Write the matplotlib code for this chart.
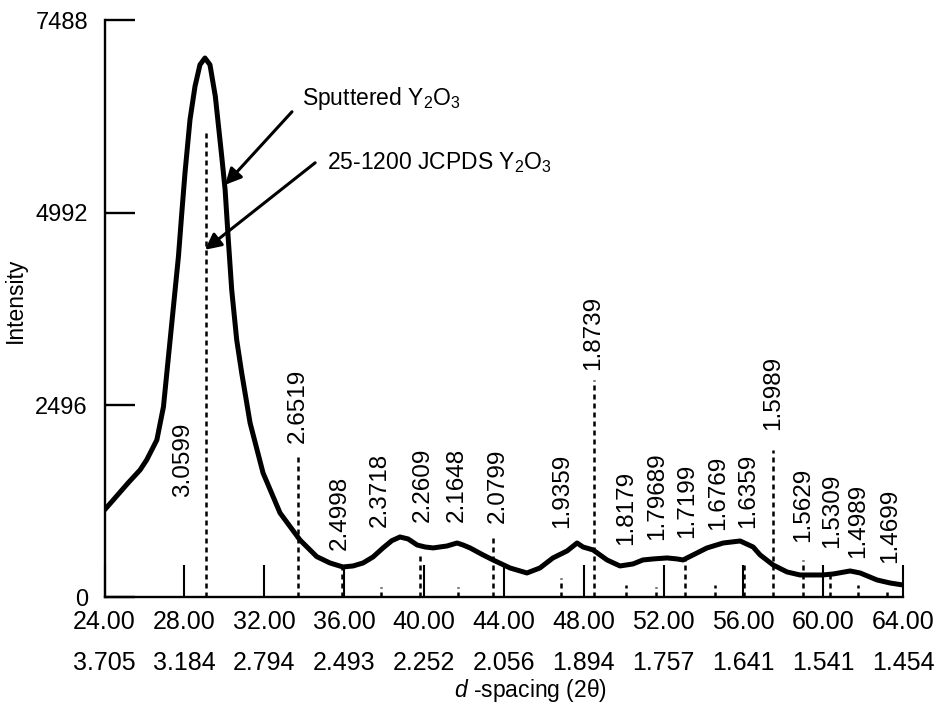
import matplotlib
matplotlib.use("Agg")
import matplotlib.pyplot as plt
from matplotlib.transforms import blended_transform_factory

plt.rcParams['font.family'] = ['Liberation Sans', 'DejaVu Sans']
plt.rcParams['mathtext.fontset'] = 'custom'
plt.rcParams['mathtext.rm'] = 'Liberation Sans'
plt.rcParams['mathtext.it'] = 'Liberation Sans:italic'

# measured diffraction scan of the sputtered film
two_theta = [24.00, 25.18, 25.78, 26.11, 26.62, 26.95, 27.20, 27.45, 27.70, 27.87,
             28.03, 28.28, 28.53, 28.78, 29.03, 29.28, 29.55, 29.87, 30.04, 30.20,
             30.37, 30.62, 30.87, 31.29, 31.94, 32.79, 33.79, 34.63, 35.29, 35.94,
             36.45, 36.95, 37.45, 37.95, 38.39, 38.80, 39.21, 39.66, 40.06, 40.46,
             41.15, 41.66, 41.96, 42.31, 42.96, 43.46, 44.31, 45.16, 45.81, 46.46,
             47.17, 47.67, 47.97, 48.47, 49.17, 49.82, 50.47, 50.97, 51.48, 52.18,
             52.68, 52.98, 53.48, 54.18, 54.99, 55.84, 56.49, 56.84, 57.49, 58.19,
             58.84, 59.35, 59.95, 60.50, 61.35, 61.85, 62.70, 63.35, 64.00]
intensity = [1136, 1486, 1655, 1785, 2044, 2473, 3122, 3771, 4420, 4991,
             5510, 6198, 6630, 6912, 6999, 6912, 6500, 5722, 5289, 4640,
             3991, 3342, 2914, 2265, 1616, 1097, 746, 530, 448, 396,
             409, 448, 526, 643, 737, 785, 759, 681, 655, 643,
             668, 707, 681, 643, 552, 487, 383, 318, 383, 513,
             604, 707, 655, 617, 487, 409, 435, 487, 500, 513,
             500, 487, 552, 643, 707, 733, 655, 552, 422, 331,
             292, 292, 292, 305, 344, 318, 227, 188, 162]

# JCPDS 25-1200 reference lines
ref_pos = [29.1, 33.7, 35.9, 37.85, 39.8, 41.7, 43.46, 46.88, 48.53, 50.1,
           51.6, 53.1, 54.6, 56.05, 57.5, 59.0, 60.35, 61.75, 63.2]
ref_int = [6029, 1850, 396, 136, 552, 136, 772, 253, 2823, 162,
           136, 513, 162, 448, 1915, 487, 318, 162, 97]
ref_labels = ['3.0599', '2.6519', '2.4998', '2.3718', '2.2609', '2.1648', '2.0799',
              '1.9359', '1.8739', '1.8179', '1.79689', '1.7199', '1.6769', '1.6359',
              '1.5989', '1.5629', '1.5309', '1.4989', '1.4699']

# where each rotated label sits (centre x, bottom y)
label_x = [27.93, 33.69, 35.80, 37.80, 39.96, 41.66, 43.71, 46.92, 48.47, 50.13,
           51.68, 53.19, 54.74, 56.24, 57.49, 58.99, 60.44, 61.74, 63.35]
label_y = [1304, 2005, 617, 915, 980, 980, 967, 902, 2953, 681,
           746, 772, 876, 902, 2174, 720, 642, 513, 448]

x_ticks = [24, 28, 32, 36, 40, 44, 48, 52, 56, 60, 64]
x_tick_labels = ['24.00', '28.00', '32.00', '36.00', '40.00', '44.00',
                 '48.00', '52.00', '56.00', '60.00', '64.00']
d_labels = ['3.705', '3.184', '2.794', '2.493', '2.252', '2.056',
            '1.894', '1.757', '1.641', '1.541', '1.454']
y_ticks = [0, 2496, 4992, 7488]

fig = plt.figure(figsize=(9.36, 7.06), dpi=100)
ax = fig.add_axes([0.1117, 0.1537, 0.8531, 0.8175])

ax.plot(two_theta, intensity, color='black', lw=3.6, solid_capstyle='round',
        solid_joinstyle='round', zorder=3)

ax.vlines(ref_pos, 0, ref_int, colors='black', linestyles=(0, (2.0, 1.6)),
          lw=1.8, zorder=2)
for lx, ly, txt in zip(label_x, label_y, ref_labels):
    ax.text(lx, ly, txt, rotation=90, ha='center', va='bottom', fontsize=17.5)

ax.set_xlim(24, 64)
ax.set_ylim(0, 7488)
ax.set_xticks(x_ticks)
ax.set_xticklabels(x_tick_labels, fontsize=18)
ax.set_yticks(y_ticks)
ax.set_yticklabels([str(v) for v in y_ticks], fontsize=17)
ax.tick_params(axis='x', direction='in', length=23, width=1.5, pad=9)
ax.tick_params(axis='y', direction='in', length=21.5, width=1.7, pad=12)

# second row of x labels: d-spacing in angstroms
trans = blended_transform_factory(ax.transData, ax.transAxes)
for xv, dv in zip(x_ticks, d_labels):
    ax.text(xv, -0.1127, dv, transform=trans, ha='center', va='center', fontsize=18)

ax.text(0.533, -0.161, '$d$ -spacing (2θ)', transform=ax.transAxes,
        ha='center', va='center', fontsize=16.5)
ax.set_ylabel('Intensity', fontsize=16.5)
ax.yaxis.set_label_coords(-0.097, 0.515)

for side in ['top', 'right']:
    ax.spines[side].set_visible(False)
for side in ['left', 'bottom']:
    ax.spines[side].set_linewidth(1.7)

arrow = dict(arrowstyle='-|>', color='black', lw=2.2, mutation_scale=24,
             shrinkA=0, shrinkB=0)
ax.annotate('', xy=(30.04, 5354), xytext=(33.39, 6302), arrowprops=arrow)
ax.annotate('', xy=(29.03, 4511), xytext=(34.55, 5640), arrowprops=arrow)
ax.text(33.90, 6471, 'Sputtered Y$_2$O$_3$', ha='left', va='center', fontsize=16.5)
ax.text(35.15, 5640, '25-1200 JCPDS Y$_2$O$_3$', ha='left', va='center', fontsize=16.5)

fig.savefig('out.png', dpi=100)
